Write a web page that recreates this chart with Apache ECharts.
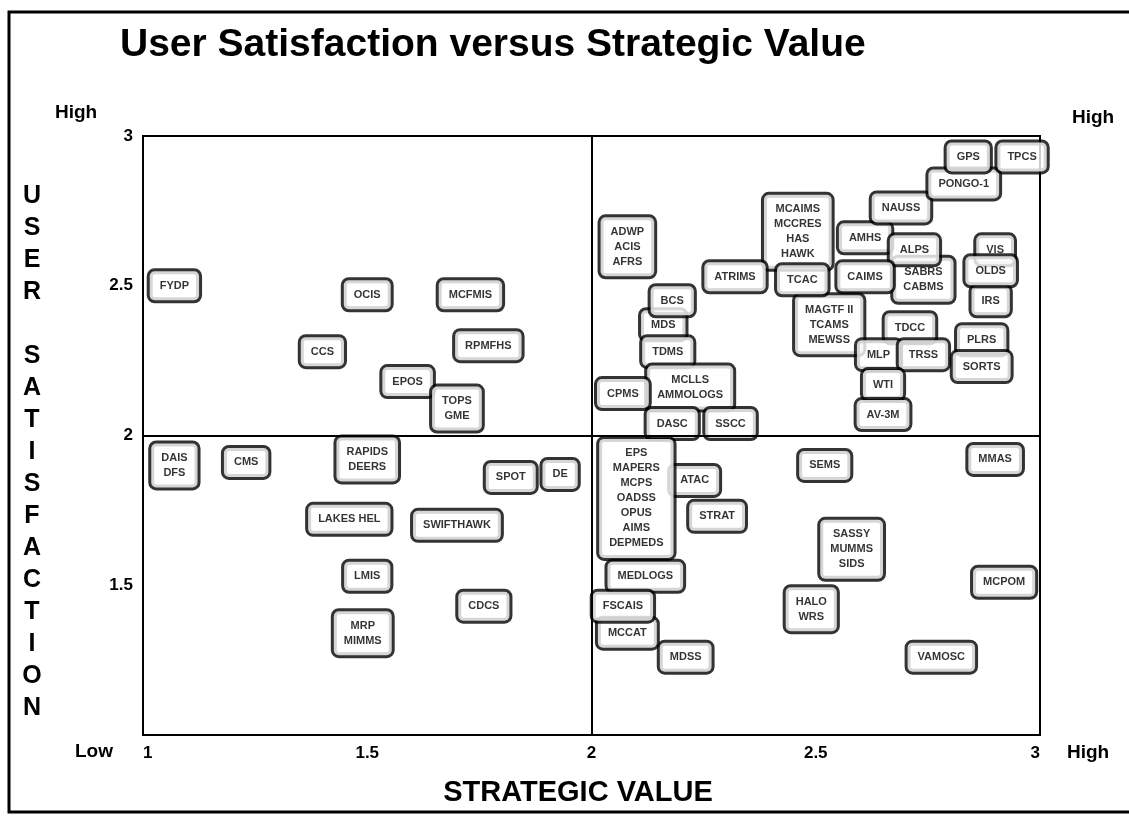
<!DOCTYPE html>
<html>
<head>
<meta charset="utf-8">
<title>User Satisfaction versus Strategic Value</title>
<script src="https://cdn.jsdelivr.net/npm/echarts@6.0.0/dist/echarts.min.js"></script>
<style>
    html, body {margin: 0; padding: 0; background: #fff;}
    #chart {width: 1129px; height: 829px;}
</style>
</head>
<body>
<div id="chart"></div>
<script>
    // systems, drawn in this order (later boxes sit on top)
    var systems = [
        'FYDP', 'OCIS', 'MCFMIS', 'CCS', 'RPMFHS', 'EPOS', 'TOPS\nGME',
        'DAIS\nDFS', 'CMS', 'RAPIDS\nDEERS', 'SPOT', 'DE', 'LAKES HEL', 'SWIFTHAWK', 'LMIS', 'CDCS', 'MRP\nMIMMS',
        'ADWP\nACIS\nAFRS', 'MCAIMS\nMCCRES\nHAS\nHAWK', 'ATRIMS', 'MAGTF II\nTCAMS\nMEWSS', 'TCAC', 'AMHS',
        'SABRS\nCABMS', 'ALPS', 'CAIMS', 'NAUSS', 'PONGO-1', 'GPS', 'TPCS', 'VIS', 'IRS', 'OLDS', 'TDCC',
        'MLP', 'TRSS', 'PLRS', 'SORTS', 'WTI', 'AV-3M', 'MDS', 'BCS', 'TDMS', 'MCLLS\nAMMOLOGS', 'CPMS', 'DASC', 'SSCC',
        'ATAC', 'MEDLOGS', 'EPS\nMAPERS\nMCPS\nOADSS\nOPUS\nAIMS\nDEPMEDS', 'STRAT', 'MCCAT', 'FSCAIS', 'MDSS',
        'SEMS', 'MMAS', 'SASSY\nMUMMS\nSIDS', 'MCPOM', 'HALO\nWRS', 'VAMOSC'
    ];
    var strategicValue = [
        1.07, 1.50, 1.73, 1.40, 1.77, 1.59, 1.70,
        1.07, 1.23, 1.50, 1.82, 1.93, 1.46, 1.70, 1.50, 1.76, 1.49,
        2.08, 2.46, 2.32, 2.53, 2.47, 2.61,
        2.74, 2.72, 2.61, 2.69, 2.83, 2.84, 2.96, 2.90, 2.89, 2.89, 2.71,
        2.64, 2.74, 2.87, 2.87, 2.65, 2.65, 2.16, 2.18, 2.17, 2.22, 2.07, 2.18, 2.31,
        2.23, 2.12, 2.10, 2.28, 2.08, 2.07, 2.21,
        2.52, 2.90, 2.58, 2.92, 2.49, 2.78
    ];
    var userSatisfaction = [
        2.50, 2.47, 2.47, 2.28, 2.30, 2.18, 2.09,
        1.90, 1.91, 1.92, 1.86, 1.87, 1.72, 1.70, 1.53, 1.43, 1.34,
        2.63, 2.68, 2.53, 2.37, 2.52, 2.66,
        2.52, 2.62, 2.53, 2.76, 2.84, 2.93, 2.93, 2.62, 2.45, 2.55, 2.36,
        2.27, 2.27, 2.32, 2.23, 2.17, 2.07, 2.37, 2.45, 2.28, 2.16, 2.14, 2.04, 2.04,
        1.85, 1.53, 1.79, 1.73, 1.34, 1.43, 1.26,
        1.90, 1.92, 1.62, 1.51, 1.42, 1.26
    ];
    var xTicks = [1, 1.5, 2, 2.5, 3];
    var yTicks = [1, 1.5, 2, 2.5, 3];
    var quadrantSplit = 2;

    var chart = echarts.init(document.getElementById('chart'), null, {renderer: 'canvas'});
    var font = 'Liberation Sans, Arial, sans-serif';

    var points = systems.map(function (name, i) {
        return {name: name, value: [strategicValue[i], userSatisfaction[i]]};
    });

    var option = {
        animation: false,
        backgroundColor: '#fff',
        grid: {
            left: 143, right: 89, top: 136, bottom: 94,
            show: true, borderColor: '#000', borderWidth: 2, backgroundColor: 'transparent'
        },
        xAxis: {
            type: 'value',
            min: xTicks[0], max: xTicks[xTicks.length - 1], interval: 0.5,
            axisLine: {show: true, lineStyle: {color: '#000', width: 2}},
            axisTick: {show: false},
            splitLine: {show: false},
            axisLabel: {
                color: '#000', fontFamily: font, fontWeight: 'bold', fontSize: 17, margin: 10,
                alignMinLabel: 'left', alignMaxLabel: 'right'
            }
        },
        yAxis: {
            type: 'value',
            min: yTicks[0], max: yTicks[yTicks.length - 1], interval: 0.5,
            axisLine: {show: true, lineStyle: {color: '#000', width: 2}},
            axisTick: {show: false},
            splitLine: {show: false},
            axisLabel: {
                color: '#000', fontFamily: font, fontWeight: 'bold', fontSize: 17, margin: 10,
                showMinLabel: false
            }
        },
        graphic: [
            {type: 'rect', shape: {x: 9, y: 12, width: 1140, height: 800},
                style: {fill: 'none', stroke: '#000', lineWidth: 3}, silent: true},
            {type: 'text', x: 120, y: 26,
                style: {text: 'User Satisfaction versus Strategic Value', fill: '#000',
                    font: 'bold 39px ' + font}},
            {type: 'text', x: 32, y: 180,
                style: {text: 'USER SATISFACTION'.split('').join('\n'), fill: '#000', align: 'center',
                    lineHeight: 32, font: 'bold 25px ' + font}},
            {type: 'text', x: 55, y: 103, style: {text: 'High', fill: '#000', font: 'bold 19px ' + font}},
            {type: 'text', x: 1072, y: 108, style: {text: 'High', fill: '#000', font: 'bold 19px ' + font}},
            {type: 'text', x: 75, y: 742, style: {text: 'Low', fill: '#000', font: 'bold 19px ' + font}},
            {type: 'text', x: 1067, y: 743, style: {text: 'High', fill: '#000', font: 'bold 19px ' + font}},
            {type: 'text', x: 578, y: 778,
                style: {text: 'STRATEGIC VALUE', fill: '#000', align: 'center', font: 'bold 29px ' + font}}
        ],
        series: [
            {
                // quadrant dividers
                type: 'scatter',
                data: [],
                z: 1,
                silent: true,
                markLine: {
                    symbol: 'none',
                    silent: true,
                    label: {show: false},
                    lineStyle: {color: '#000', width: 2, type: 'solid'},
                    data: [{xAxis: quadrantSplit}, {yAxis: quadrantSplit}]
                }
            },
            {
                type: 'scatter',
                z: 3,
                symbolSize: 1,
                itemStyle: {color: 'transparent'},
                silent: true,
                data: points,
                label: {
                    show: true,
                    position: 'inside',
                    formatter: '{b}',
                    color: '#000',
                    fontFamily: font,
                    fontWeight: 'bold',
                    fontSize: 11,
                    lineHeight: 15,
                    align: 'center',
                    backgroundColor: '#fff',
                    borderColor: '#000',
                    borderWidth: 3,
                    borderRadius: 5,
                    padding: [3, 10, 11, 10]
                },
                emphasis: {disabled: true}
            }
        ]
    };

    chart.setOption(option);
</script>
</body>
</html>
